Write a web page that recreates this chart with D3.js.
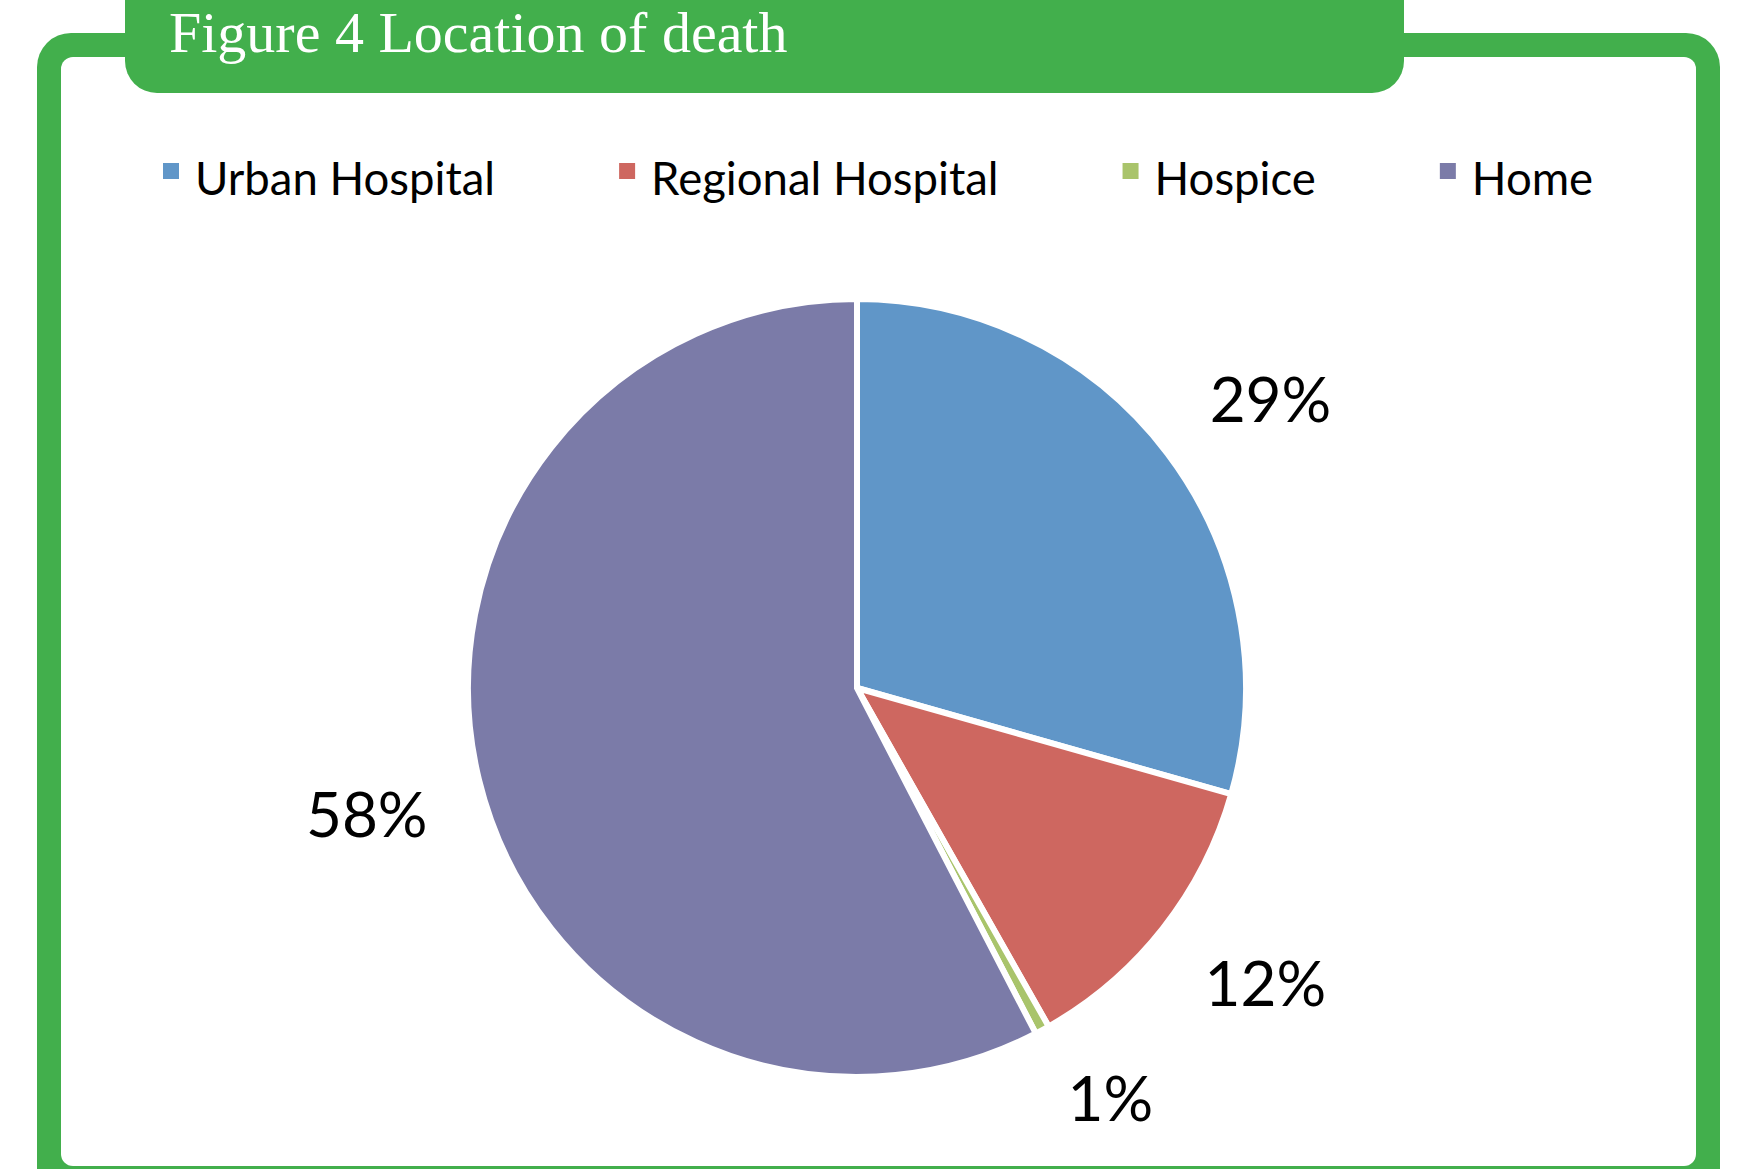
<!DOCTYPE html>
<html>
<head>
<meta charset="utf-8">
<script src="https://cdn.jsdelivr.net/npm/d3@7"></script>
<style>
  html, body { margin: 0; padding: 0; background: #fff; }
  svg { display: block; }
</style>
</head>
<body>
<svg id="chart" width="1740" height="1169"></svg>
<script>
// ---- data ----
const categories = ["Urban Hospital", "Regional Hospital", "Hospice", "Home"];
const values = [29.4, 12.4, 0.6, 57.6];
const colors = ["#6096C8", "#CE6760", "#A9C46B", "#7B7BA8"];
const title = "Figure 4 Location of death";

const W = 1740, H = 1169;
const svg = d3.select("#chart");
const green = "#42AF4C";

// ---- frame ----
svg.append("rect").attr("x", 37).attr("y", 33).attr("width", 1720 - 37).attr("height", 1250)
  .attr("rx", 34).attr("fill", green);
svg.append("rect").attr("x", 61).attr("y", 57).attr("width", 1696 - 61).attr("height", 1166 - 57)
  .attr("rx", 12).attr("fill", "#fff");

// title tab
svg.append("rect").attr("x", 125).attr("y", -40).attr("width", 1404 - 125).attr("height", 93 + 40)
  .attr("rx", 32).attr("fill", green);
svg.append("text").attr("x", 169).attr("y", 52)
  .attr("font-family", "'Liberation Serif', 'DejaVu Serif', serif")
  .attr("font-size", 58).attr("fill", "#fff").text(title);

// ---- legend ----
const legendFont = "Lato, 'Open Sans', sans-serif";
let lx = 163;
const legend = svg.append("g");
categories.forEach((c, i) => {
  legend.append("rect").attr("x", lx).attr("y", 163).attr("width", 16).attr("height", 16)
    .attr("fill", colors[i]);
  const t = legend.append("text").attr("x", lx + 32).attr("y", 195)
    .attr("font-family", legendFont).attr("font-size", 45.5).attr("fill", "#000").text(c);
  const w = t.node().getComputedTextLength();
  lx = lx + 32 + w + 124;
});

// ---- pie ----
const cx = 857, cy = 688, R = 389;
const pie = d3.pie().sort(null).value(d => d);
const arcs = pie(values);
const arc = d3.arc().innerRadius(0).outerRadius(R);

const g = svg.append("g").attr("transform", `translate(${cx},${cy})`);
g.selectAll("path").data(arcs).join("path")
  .attr("d", arc)
  .attr("fill", (d, i) => colors[i])
  .attr("stroke", "#fff").attr("stroke-width", 6).attr("stroke-linejoin", "miter");

// outside-end labels: nearest corner of the label box sits on a ring of radius Rl
const Rl = 442, labelSize = 62, capH = 0.72 * labelSize;
g.selectAll("text.lbl").data(arcs).join("text").attr("class", "lbl")
  .each(function(d) {
    const a = (d.startAngle + d.endAngle) / 2;
    const sx = Math.sin(a), sy = -Math.cos(a);
    const px = Rl * sx, py = Rl * sy;
    d3.select(this)
      .attr("x", px)
      .attr("y", sy < 0 ? py : py + capH)
      .attr("text-anchor", sx >= 0 ? "start" : "end");
  })
  .attr("font-family", legendFont).attr("font-size", labelSize).attr("fill", "#000")
  .text(d => Math.round(d.data) + "%");
</script>
</body>
</html>
